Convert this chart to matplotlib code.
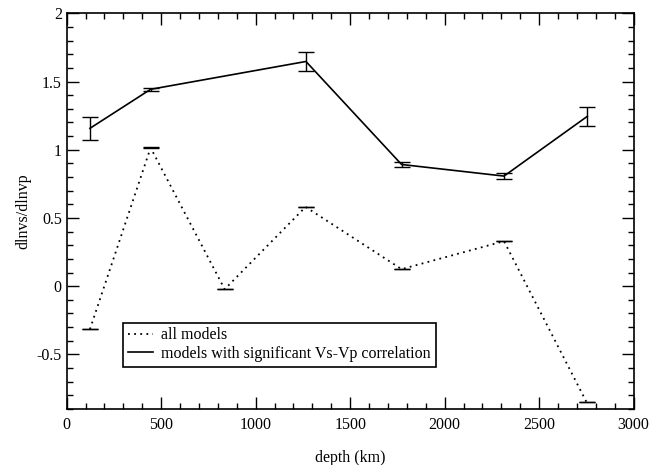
import matplotlib.pyplot as plt
import numpy as np

plt.rcParams['font.family'] = ['Liberation Serif', 'DejaVu Serif']
plt.rcParams['font.size'] = 11.5

# all models (dotted)
depth_all = [123, 444, 836, 1264, 1772, 2314, 2751]
ratio_all = [-0.315, 1.015, -0.022, 0.581, 0.125, 0.33, -0.85]
err_all = [0.002, 0.004, 0.002, 0.002, 0.002, 0.002, 0.002]

# models with significant Vs-Vp correlation (solid)
depth_sig = [123, 444, 1266, 1772, 2314, 2755]
ratio_sig = [1.157, 1.443, 1.647, 0.892, 0.807, 1.245]
err_sig = [0.085, 0.01, 0.07, 0.018, 0.02, 0.071]

fig = plt.figure(figsize=(6.67, 4.65), dpi=100)
ax = fig.add_axes([0.1, 0.1204, 0.85, 0.8510])

ax.errorbar(depth_all, ratio_all, yerr=err_all, color='k', lw=1.3,
            linestyle=(0, (1, 2.4)), capsize=6, elinewidth=1.0, capthick=1.0,
            label='all models')
ax.errorbar(depth_sig, ratio_sig, yerr=err_sig, color='k', lw=1.2,
            linestyle='-', capsize=6, elinewidth=1.0, capthick=1.0,
            label='models with significant Vs-Vp correlation')

ax.set_xlim(0, 3000)
ax.set_ylim(-0.9, 2)
ax.set_xticks(np.arange(0, 3001, 500))
ax.set_xticks(np.arange(0, 3001, 100), minor=True)
ax.set_yticks([-0.5, 0, 0.5, 1, 1.5, 2])
ax.set_yticklabels(['-0.5', '0', '0.5', '1', '1.5', '2'])
ax.set_yticks(np.arange(-0.9, 2.001, 0.1), minor=True)
ax.tick_params(which='both', direction='in', top=True, right=True, width=1)
ax.tick_params(which='major', length=8.4)
ax.tick_params(which='minor', length=4.3)
ax.tick_params(axis='x', which='major', pad=6)
ax.tick_params(axis='y', which='major', pad=3.5)
for s in ax.spines.values():
    s.set_linewidth(1.2)

ax.set_xlabel('depth (km)', labelpad=12)
ax.set_ylabel('dlnvs/dlnvp', labelpad=4)

h, l = ax.get_legend_handles_labels()
h = [x[0] for x in h]
leg = ax.legend(h, l, loc='lower left', bbox_to_anchor=(0.099, 0.107),
                fancybox=False, edgecolor='k', framealpha=1, handlelength=1.6,
                handletextpad=0.5, borderaxespad=0, borderpad=0.3,
                labelspacing=0.15)
leg.get_frame().set_linewidth(1.2)

fig.savefig('out.png', dpi=100)
